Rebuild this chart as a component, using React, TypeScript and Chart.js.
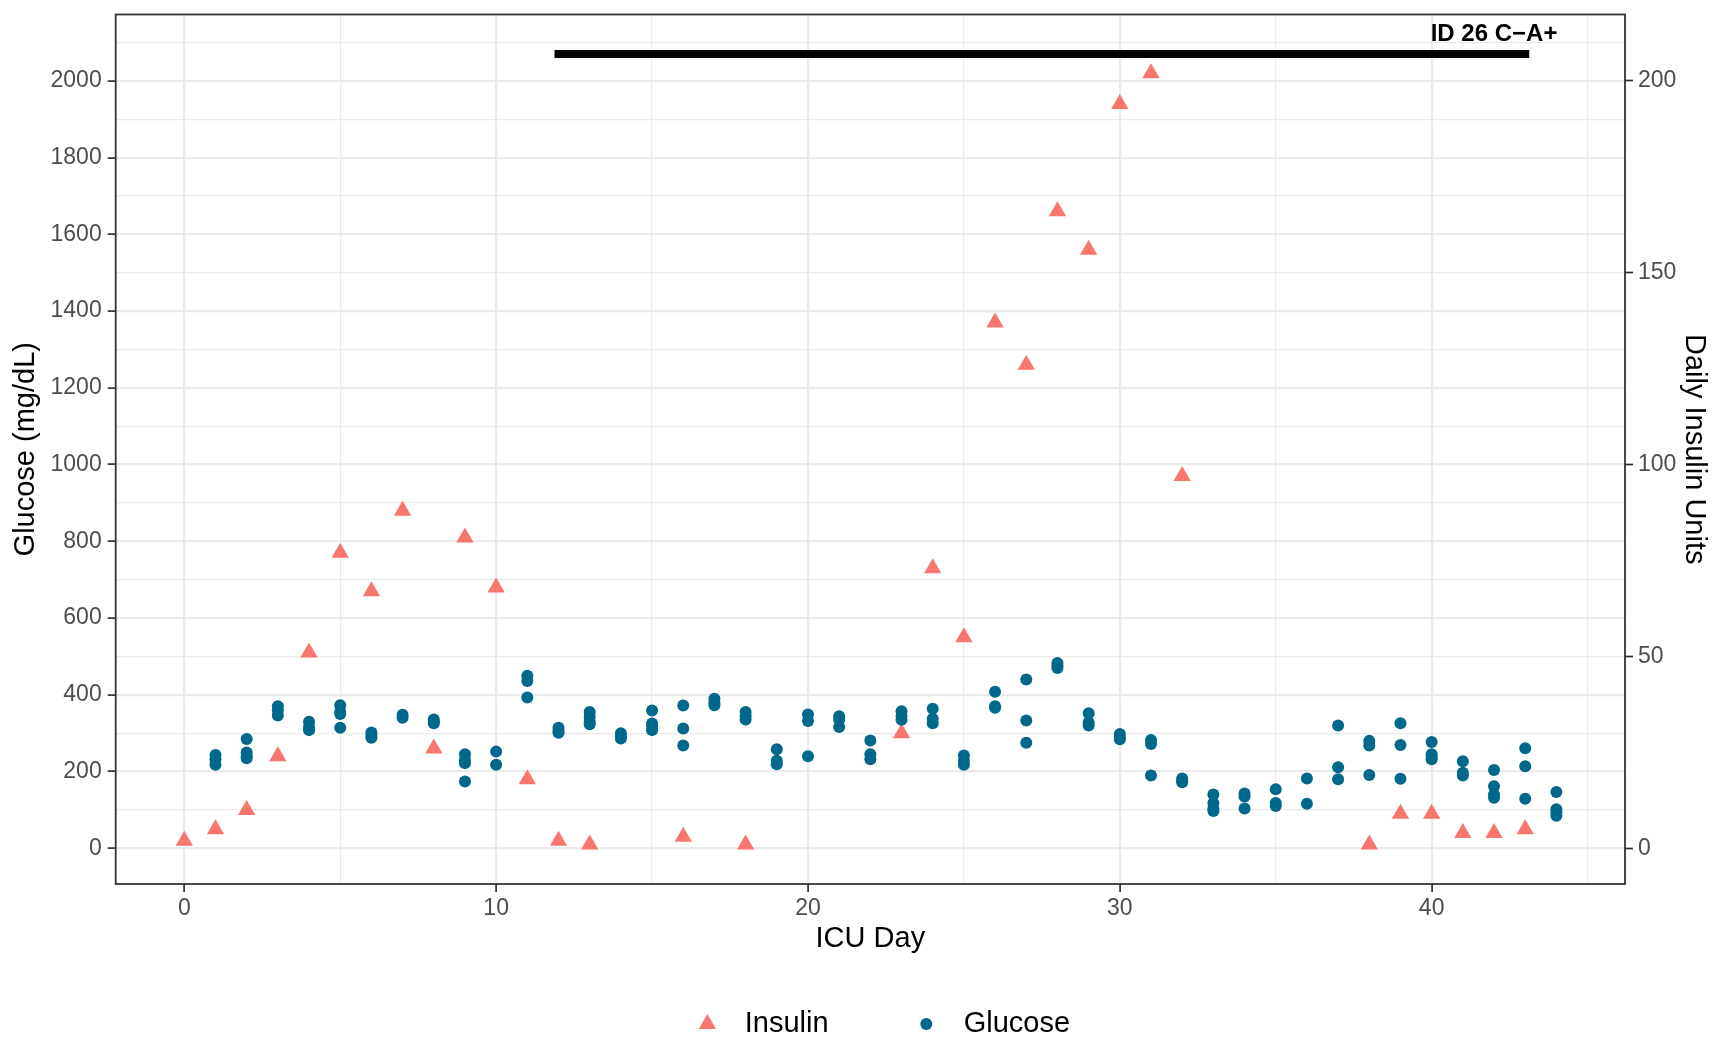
import React, { useEffect, useRef } from 'react';
import { Chart, registerables } from 'chart.js';

Chart.register(...registerables);

// ---------- data ----------
const insulinDays = [0, 1, 2, 3, 4, 5, 6, 7, 8, 9, 10, 11, 12, 13, 16, 18, 23, 24, 25, 26, 27, 28, 29, 30, 31, 32, 38, 39, 40, 41, 42, 43];
const insulinUnits = [2, 5, 10, 24, 51, 77, 67, 88, 26, 81, 68, 18, 2, 1, 3, 1, 30, 73, 55, 137, 126, 166, 156, 194, 202, 97, 1, 9, 9, 4, 4, 5];

const glucoseDays = [1, 2, 3, 4, 5, 6, 7, 8, 9, 10, 11, 12, 13, 14, 15, 16, 17, 18, 19, 20, 21, 22, 23, 24, 25, 26, 27, 28, 29, 30, 31, 32, 33, 34, 35, 36, 37, 38, 39, 40, 41, 42, 43, 44];
const glucoseReadings = [
  [243, 232, 218],
  [285, 250, 240, 235],
  [370, 360, 346],
  [330, 316, 308],
  [373, 355, 350, 314],
  [302, 294, 288],
  [348, 340],
  [336, 330, 326],
  [245, 230, 222, 174],
  [252, 218],
  [450, 436, 393],
  [314, 306, 301],
  [355, 343, 330, 323],
  [300, 292, 286],
  [359, 325, 318, 308],
  [372, 312, 268],
  [390, 380, 373],
  [355, 345, 336],
  [258, 228, 219],
  [349, 332, 240],
  [344, 336, 316],
  [281, 245, 232],
  [357, 345, 335],
  [364, 338, 326],
  [242, 228, 218],
  [408, 370, 366],
  [440, 333, 275],
  [483, 476, 470],
  [352, 328, 320],
  [298, 290, 284],
  [282, 272, 190],
  [182, 176, 172],
  [140, 118, 103, 97],
  [143, 135, 104],
  [154, 118, 110],
  [182, 116],
  [320, 211, 180],
  [280, 268, 191],
  [326, 269, 181],
  [277, 245, 238, 232],
  [227, 197, 190],
  [204, 162, 140, 132],
  [261, 214, 129],
  [147, 102, 94, 85],
];

// annotation bar + label
const barStartDay = 12;
const barEndDay = 43;
const barLevel = 2070;
const annotationText = 'ID 26 C\u2212A+';
const annotationDay = 42;
const annotationLevel = 2120;

// ticks
const xMajorTicks = [0, 10, 20, 30, 40];
const xMinorTicks = [5, 15, 25, 35, 45];
const yMajorTicks = [0, 200, 400, 600, 800, 1000, 1200, 1400, 1600, 1800, 2000];
const yMinorTicks = [100, 300, 500, 700, 900, 1100, 1300, 1500, 1700, 1900, 2100];
const y2Ticks = [0, 50, 100, 150, 200];
const insulinScale = 10;

const xMin = -2.2;
const xMax = 46.2;
const yMin = -93;
const yMax = 2173;

const FONT = '"Liberation Sans", Arial, Helvetica, sans-serif';
const INSULIN_COLOR = '#F8766D';
const GLUCOSE_COLOR = '#00688B';

const panelPlugin = {
  id: 'panelDecor',
  afterDatasetsDraw(chart: any) {
    const { ctx, chartArea: a, scales } = chart;
    ctx.save();
    ctx.font = `bold 24px ${FONT}`;
    ctx.fillStyle = '#000000';
    ctx.textAlign = 'center';
    ctx.textBaseline = 'middle';
    ctx.fillText(
      annotationText,
      scales.x.getPixelForValue(annotationDay),
      scales.y.getPixelForValue(annotationLevel)
    );
    ctx.strokeStyle = '#333333';
    ctx.lineWidth = 1.8;
    ctx.strokeRect(a.left, a.top, a.right - a.left, a.bottom - a.top);
    ctx.restore();
  },
  afterDraw(chart: any) {
    const { ctx } = chart;
    const ly = 1024;
    ctx.save();
    // Insulin key (triangle)
    const tx = 707.4;
    const r = 10;
    ctx.fillStyle = INSULIN_COLOR;
    ctx.beginPath();
    for (let k = 0; k < 3; k++) {
      const ang = (k * 2 * Math.PI) / 3;
      const px = tx + Math.sin(ang) * r;
      const py = ly - Math.cos(ang) * r;
      if (k === 0) ctx.moveTo(px, py);
      else ctx.lineTo(px, py);
    }
    ctx.closePath();
    ctx.fill();
    // Glucose key (circle)
    ctx.fillStyle = GLUCOSE_COLOR;
    ctx.beginPath();
    ctx.arc(926.3, ly, 6, 0, Math.PI * 2);
    ctx.fill();
    // labels
    ctx.fillStyle = '#000000';
    ctx.font = `29px ${FONT}`;
    ctx.textAlign = 'left';
    ctx.textBaseline = 'middle';
    ctx.fillText(chart.data.datasets[1].label, 744.8, ly);
    ctx.fillText(chart.data.datasets[0].label, 963.7, ly);
    ctx.restore();
  },
};

export default function App() {
  const ref = useRef<HTMLCanvasElement>(null);

  useEffect(() => {
    if (!ref.current) return;
    const glucosePoints = glucoseDays.flatMap((d, i) => glucoseReadings[i].map((v) => ({ x: d, y: v })));
    const insulinPoints = insulinDays.map((d, i) => ({ x: d, y: insulinUnits[i] }));

    const xTickList = [...xMajorTicks, ...xMinorTicks].sort((a, b) => a - b);
    const yTickList = [...yMajorTicks, ...yMinorTicks].sort((a, b) => a - b);

    const chart = new Chart(ref.current, {
      type: 'scatter',
      data: {
        datasets: [
          {
            label: 'Glucose',
            data: glucosePoints,
            yAxisID: 'y',
            pointStyle: 'circle',
            pointRadius: 6,
            pointBorderWidth: 0,
            backgroundColor: GLUCOSE_COLOR,
            borderColor: GLUCOSE_COLOR,
            order: 0,
          },
          {
            label: 'Insulin',
            data: insulinPoints,
            yAxisID: 'y2',
            pointStyle: 'triangle',
            pointRadius: 10,
            pointBorderWidth: 0,
            backgroundColor: INSULIN_COLOR,
            borderColor: INSULIN_COLOR,
            order: 1,
          },
          {
            type: 'line',
            label: 'bar',
            data: [
              { x: barStartDay, y: barLevel },
              { x: barEndDay, y: barLevel },
            ],
            yAxisID: 'y',
            borderColor: '#000000',
            borderWidth: 8,
            borderCapStyle: 'square',
            pointRadius: 0,
            fill: false,
            order: 2,
          } as any,
        ],
      },
      options: {
        responsive: false,
        maintainAspectRatio: false,
        animation: false,
        devicePixelRatio: 1,
        events: [],
        layout: { padding: { top: 14.5, bottom: 0, left: 0, right: 0 } },
        plugins: {
          legend: { display: false },
          tooltip: { enabled: false },
        },
        scales: {
          x: {
            type: 'linear',
            min: xMin,
            max: xMax,
            afterBuildTicks: (s: any) => {
              s.ticks = xTickList.map((v) => ({ value: v }));
            },
            afterFit: (s: any) => {
              s.height = 156;
              s.paddingLeft = 0;
              s.paddingRight = 0;
            },
            grid: {
              color: '#EBEBEB',
              lineWidth: (c: any) => (c.tick && xMajorTicks.includes(c.tick.value) ? 2.2 : 1.2),
              tickColor: (c: any) => (c.tick && xMajorTicks.includes(c.tick.value) ? '#333333' : 'rgba(0,0,0,0)'),
              tickLength: 8,
              tickWidth: 1.7,
              drawTicks: true,
            },
            border: { display: false },
            ticks: {
              autoSkip: false,
              maxRotation: 0,
              minRotation: 0,
              padding: 3,
              color: '#4D4D4D',
              font: { family: FONT, size: 23, lineHeight: 1.2 },
              callback: (v: any) => (xMajorTicks.includes(Number(v)) ? String(v) : ''),
            },
            title: {
              display: true,
              text: 'ICU Day',
              color: '#000000',
              font: { family: FONT, size: 29, lineHeight: 1.2 },
              padding: { top: 0, bottom: 84 },
            },
          },
          y: {
            type: 'linear',
            position: 'left',
            min: yMin,
            max: yMax,
            afterBuildTicks: (s: any) => {
              s.ticks = yTickList.map((v) => ({ value: v }));
            },
            afterFit: (s: any) => {
              s.width = 115.7;
              s.paddingTop = 0;
              s.paddingBottom = 0;
            },
            grid: {
              color: '#EBEBEB',
              lineWidth: (c: any) => (c.tick && yMajorTicks.includes(c.tick.value) ? 2.2 : 1.2),
              tickColor: (c: any) => (c.tick && yMajorTicks.includes(c.tick.value) ? '#333333' : 'rgba(0,0,0,0)'),
              tickLength: 8,
              tickWidth: 1.7,
              drawTicks: true,
            },
            border: { display: false },
            ticks: {
              autoSkip: false,
              padding: 6,
              color: '#4D4D4D',
              font: { family: FONT, size: 23, lineHeight: 1.2 },
              callback: (v: any) => (yMajorTicks.includes(Number(v)) ? String(v) : ''),
            },
            title: {
              display: true,
              text: 'Glucose (mg/dL)',
              color: '#000000',
              font: { family: FONT, size: 29, lineHeight: 1.2 },
              padding: { top: 9, bottom: 0 },
            },
          },
          y2: {
            type: 'linear',
            position: 'right',
            min: yMin / insulinScale,
            max: yMax / insulinScale,
            afterBuildTicks: (s: any) => {
              s.ticks = y2Ticks.map((v) => ({ value: v }));
            },
            afterFit: (s: any) => {
              s.width = 100;
              s.paddingTop = 0;
              s.paddingBottom = 0;
            },
            grid: {
              drawOnChartArea: false,
              tickColor: '#333333',
              tickLength: 8,
              tickWidth: 1.7,
              drawTicks: true,
            },
            border: { display: false },
            ticks: {
              autoSkip: false,
              padding: 5,
              color: '#4D4D4D',
              font: { family: FONT, size: 23, lineHeight: 1.2 },
              callback: (v: any) => String(v),
            },
            title: {
              display: true,
              text: 'Daily Insulin Units',
              color: '#000000',
              font: { family: FONT, size: 29, lineHeight: 1.2 },
              padding: { top: 14, bottom: 0 },
            },
          },
        },
      } as any,
      plugins: [panelPlugin],
    });

    return () => chart.destroy();
  }, []);

  return (
    <div style={{ position: 'fixed', left: 0, top: 0, width: 1725, height: 1040, background: '#ffffff' }}>
      <canvas ref={ref} width={1725} height={1040} style={{ display: 'block', width: 1725, height: 1040 }} />
    </div>
  );
}
